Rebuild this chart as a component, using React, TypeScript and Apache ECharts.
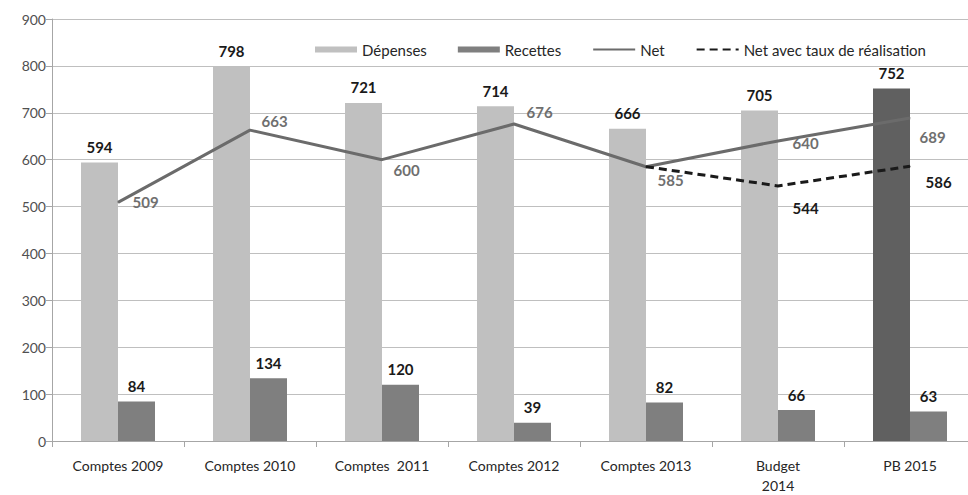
import React, { useEffect, useRef } from "react";
import * as echarts from "echarts";

const categories = ["Comptes 2009", "Comptes 2010", "Comptes  2011", "Comptes 2012", "Comptes 2013", "Budget\n2014", "PB 2015"];
const depenses = [594, 798, 721, 714, 666, 705, 752];
const recettes = [84, 134, 120, 39, 82, 66, 63];
const net = [509, 663, 600, 676, 585, 640, 689];
const netTaux = [null, null, null, null, 585, 544, 586];
const yTicks = { min: 0, max: 900, interval: 100 };

// label placement tweaks (styling only)
const netOffsets = [[9, 0], [6, -9], [6, 10], [7, -12], [6, 13], [9, 2], [4, 19]];
const tauxOffsets = [[0, 0], [0, 0], [0, 0], [0, 0], [0, 0], [9, 22], [10, 16]];

const FONT = "Lato";

export default function App() {
  const ref = useRef<HTMLDivElement>(null);
  useEffect(() => {
    if (!ref.current) return;
    const chart = echarts.init(ref.current, undefined, { renderer: "svg" });
    const barLabel = {
      show: true,
      position: "top",
      distance: 8,
      color: "#1a1a1a",
      fontWeight: "bold",
      fontSize: 15,
      fontFamily: FONT,
    };
    chart.setOption({
      animation: false,
      backgroundColor: "#ffffff",
      textStyle: { fontFamily: FONT },
      legend: {
        left: 310,
        top: 37,
        itemWidth: 42,
        itemHeight: 6,
        itemGap: 31,
        textStyle: { fontSize: 15, color: "#262626", fontFamily: FONT },
        data: [
          { name: "Dépenses", icon: "rect" },
          { name: "Recettes", icon: "rect" },
          { name: "Net", itemStyle: { opacity: 0 } },
          { name: "Net avec taux de réalisation", itemStyle: { opacity: 0 } },
        ],
      },
      grid: { left: 52, right: 14, top: 19, bottom: 47 },
      xAxis: {
        type: "category",
        data: categories,
        axisLine: { lineStyle: { color: "#a6a6a6", width: 1 } },
        axisTick: { show: true, length: 6, lineStyle: { color: "#a6a6a6" } },
        axisLabel: { color: "#262626", fontSize: 14, margin: 14, lineHeight: 20, fontFamily: FONT },
      },
      yAxis: {
        type: "value",
        min: yTicks.min,
        max: yTicks.max,
        interval: yTicks.interval,
        axisLine: { show: true, lineStyle: { color: "#a6a6a6", width: 1 } },
        axisTick: { show: true, length: 6, lineStyle: { color: "#a6a6a6" } },
        axisLabel: { color: "#505050", fontSize: 14, margin: 6, fontFamily: FONT },
        splitLine: { lineStyle: { color: "#bfbfbf", width: 1 } },
      },
      series: [
        {
          name: "Dépenses",
          type: "bar",
          barWidth: 37,
          barGap: "0%",
          itemStyle: { color: "#c0c0c0" },
          label: barLabel,
          data: depenses.map((v, i) =>
            i === depenses.length - 1 ? { value: v, itemStyle: { color: "#606060" } } : v
          ),
        },
        {
          name: "Recettes",
          type: "bar",
          barWidth: 37,
          itemStyle: { color: "#7f7f7f" },
          label: barLabel,
          data: recettes,
        },
        {
          name: "Net",
          type: "line",
          symbol: "circle",
          symbolSize: 1,
          showSymbol: true,
          itemStyle: { color: "#6b6b6b" },
          lineStyle: { color: "#6b6b6b", width: 3 },
          z: 5,
          label: {
            show: true,
            position: "right",
            color: "#6f6f6f",
            fontWeight: "bold",
            fontSize: 15,
            fontFamily: FONT,
          },
          data: net.map((v, i) => ({ value: v, label: { offset: netOffsets[i] } })),
        },
        {
          name: "Net avec taux de réalisation",
          type: "line",
          symbol: "circle",
          symbolSize: 1,
          showSymbol: true,
          itemStyle: { color: "#1a1a1a" },
          lineStyle: { color: "#1a1a1a", width: 3, type: [8, 5] },
          z: 6,
          label: {
            show: true,
            position: "right",
            color: "#1a1a1a",
            fontWeight: "bold",
            fontSize: 15,
            fontFamily: FONT,
          },
          data: netTaux.map((v, i) => ({
            value: v,
            label: { show: i > 4 && v !== null, offset: tauxOffsets[i] },
          })),
        },
      ],
    });
    return () => chart.dispose();
  }, []);
  return (
    <div style={{ position: "fixed", left: 0, top: 0, width: 968, height: 495, overflow: "hidden", background: "#fff" }}>
      <div ref={ref} style={{ width: 990, height: 495 }} />
    </div>
  );
}
